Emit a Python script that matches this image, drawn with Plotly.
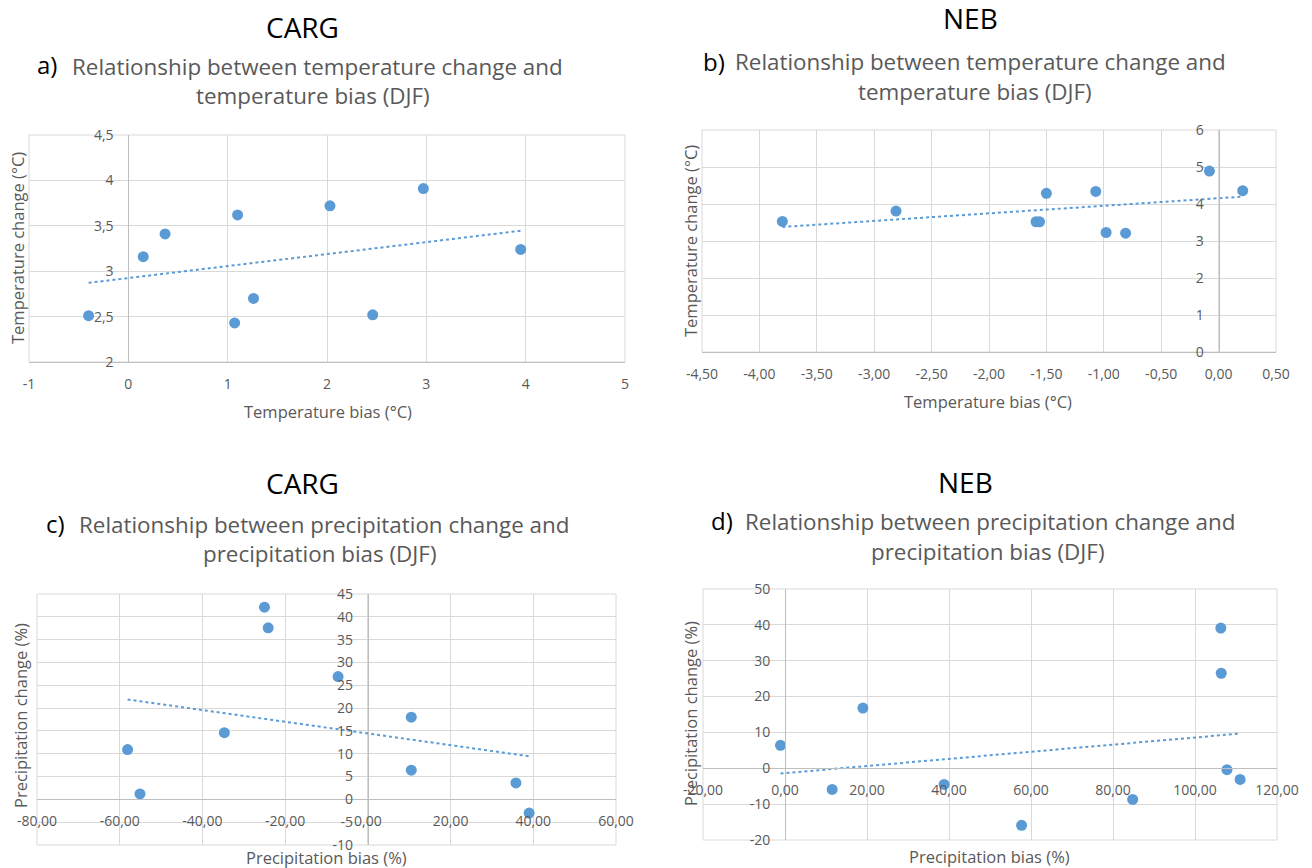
import numpy as np
import plotly.graph_objects as go

W, H = 1312, 868

# ---------------- data ----------------
a_bias = [-0.40, 0.15, 0.37, 1.10, 1.07, 1.26, 2.03, 2.46, 2.97, 3.95]
a_change = [2.51, 3.16, 3.41, 3.62, 2.43, 2.70, 3.72, 2.52, 3.91, 3.24]

b_bias = [-3.80, -2.81, -1.59, -1.56, -1.50, -1.07, -0.98, -0.81, -0.08, 0.21]
b_change = [3.53, 3.81, 3.52, 3.52, 4.29, 4.34, 3.23, 3.21, 4.89, 4.36]

c_bias = [-58.1, -55.1, -34.7, -25.0, -24.1, -7.2, 10.5, 10.5, 35.8, 39.0]
c_change = [10.9, 1.2, 14.6, 42.1, 37.6, 26.9, 18.0, 6.4, 3.6, -3.0]

d_bias = [-1.1, 11.5, 19.0, 38.8, 57.7, 84.8, 106.3, 106.4, 107.8, 111.0]
d_change = [6.4, -5.9, 16.8, -4.5, -15.9, -8.7, 39.1, 26.5, -0.4, -3.1]

# ticks
a_xticks = [-1, 0, 1, 2, 3, 4, 5]
a_xlabels = ["-1", "0", "1", "2", "3", "4", "5"]
a_yticks = [2, 2.5, 3, 3.5, 4, 4.5]
a_ylabels = ["2", "2,5", "3", "3,5", "4", "4,5"]

b_xticks = [-4.5, -4.0, -3.5, -3.0, -2.5, -2.0, -1.5, -1.0, -0.5, 0.0, 0.5]
b_xlabels = ["-4,50", "-4,00", "-3,50", "-3,00", "-2,50", "-2,00", "-1,50",
             "-1,00", "-0,50", "0,00", "0,50"]
b_yticks = [0, 1, 2, 3, 4, 5, 6]
b_ylabels = ["0", "1", "2", "3", "4", "5", "6"]

c_xticks = [-80, -60, -40, -20, 0, 20, 40, 60]
c_xlabels = ["-80,00", "-60,00", "-40,00", "-20,00", "0,00", "20,00", "40,00", "60,00"]
c_yticks = [-10, -5, 0, 5, 10, 15, 20, 25, 30, 35, 40, 45]
c_ylabels = ["-10", "-5", "0", "5", "10", "15", "20", "25", "30", "35", "40", "45"]

d_xticks = [-20, 0, 20, 40, 60, 80, 100, 120]
d_xlabels = ["-20,00", "0,00", "20,00", "40,00", "60,00", "80,00", "100,00", "120,00"]
d_yticks = [-20, -10, 0, 10, 20, 30, 40, 50]
d_ylabels = ["-20", "-10", "0", "10", "20", "30", "40", "50"]

# ---------------- styling / layout ----------------
BLUE = "#5B9BD5"
GRID = "#d9d9d9"
AXIS = "#bfbfbf"
GREY = "#595959"
FONT = "Open Sans"
TICK = 14
ATITLE = 16.5
SUB = 22.4
HEAD = 28

panels = [
    dict(x=a_bias, y=a_change, xt=a_xticks, xl=a_xlabels, yt=a_yticks, yl=a_ylabels,
         box=(29, 135, 625, 362), xcross=a_yticks[0], ycross=0),
    dict(x=b_bias, y=b_change, xt=b_xticks, xl=b_xlabels, yt=b_yticks, yl=b_ylabels,
         box=(702, 130, 1276, 352), xcross=b_yticks[0], ycross=0),
    dict(x=c_bias, y=c_change, xt=c_xticks, xl=c_xlabels, yt=c_yticks, yl=c_ylabels,
         box=(37, 594, 616, 845), xcross=0, ycross=0),
    dict(x=d_bias, y=d_change, xt=d_xticks, xl=d_xlabels, yt=d_yticks, yl=d_ylabels,
         box=(703, 589, 1277, 840), xcross=0, ycross=0),
]

fig = go.Figure()
layout = {}
shapes = []

for i, p in enumerate(panels):
    n = "" if i == 0 else str(i + 1)
    xa, ya = "x" + n, "y" + n
    l, t, r, b = p["box"]
    xd = [l / W, r / W]
    yd = [1 - b / H, 1 - t / H]
    xmin, xmax = p["xt"][0], p["xt"][-1]
    ymin, ymax = p["yt"][0], p["yt"][-1]

    # scatter points
    fig.add_trace(go.Scatter(x=p["x"], y=p["y"], mode="markers", xaxis=xa, yaxis=ya,
                             marker=dict(color=BLUE, size=11, line=dict(width=0)),
                             showlegend=False, hoverinfo="x+y"))
    # linear trendline computed from the points
    k, c0 = np.polyfit(p["x"], p["y"], 1)
    tx = [min(p["x"]), max(p["x"])]
    fig.add_trace(go.Scatter(x=tx, y=[k * v + c0 for v in tx], mode="lines",
                             xaxis=xa, yaxis=ya,
                             line=dict(color=BLUE, width=2, dash="dot"),
                             showlegend=False, hoverinfo="skip"))

    xpos = yd[0] + (p["xcross"] - ymin) / (ymax - ymin) * (yd[1] - yd[0])
    ypos = xd[0] + (p["ycross"] - xmin) / (xmax - xmin) * (xd[1] - xd[0])

    layout["xaxis" + n] = dict(
        domain=xd, range=[xmin, xmax], anchor="free", position=xpos,
        tickmode="array", tickvals=p["xt"], ticktext=p["xl"], tickangle=0,
        showgrid=True, gridcolor=GRID, gridwidth=1, zeroline=False,
        showline=True, linecolor=AXIS, linewidth=1, ticks="",
        ticklabelstandoff=9, automargin=False,
        tickfont=dict(family=FONT, size=TICK, color=GREY), fixedrange=True)
    layout["yaxis" + n] = dict(
        domain=yd, range=[ymin, ymax], anchor="free", position=ypos,
        tickmode="array", tickvals=p["yt"], ticktext=p["yl"],
        showgrid=True, gridcolor=GRID, gridwidth=1, zeroline=False,
        showline=True, linecolor=AXIS, linewidth=1, ticks="",
        ticklabelstandoff=12, automargin=False,
        tickfont=dict(family=FONT, size=TICK, color=GREY), fixedrange=True)
    shapes.append(dict(type="rect", xref=xa + " domain", yref=ya + " domain",
                       x0=0, x1=1, y0=0, y1=1, line=dict(color=GRID, width=1),
                       layer="below"))


def txt(s, px, py, size, color=GREY, angle=0, anchor="center"):
    return dict(text=s, x=px / W, y=1 - py / H, xref="paper", yref="paper",
                showarrow=False, xanchor=anchor, yanchor="middle", textangle=angle,
                font=dict(family=FONT, size=size, color=color))


ann = [
    # panel a
    txt("CARG", 302, 27, HEAD, "#000000"),
    txt("a)", 47, 65, 24, "#000000"),
    txt("Relationship between temperature change and", 317, 66, SUB),
    txt("temperature bias (DJF)", 313, 95, SUB),
    txt("Temperature change (°C)", 17, 248, ATITLE, angle=-90),
    txt("Temperature bias (°C)", 328, 411, ATITLE),
    # panel b
    txt("NEB", 970, 18, HEAD, "#000000"),
    txt("b)", 714, 61, 24, "#000000"),
    txt("Relationship between temperature change and", 980, 62, SUB),
    txt("temperature bias (DJF)", 975, 92, SUB),
    txt("Temperature change (°C)", 690, 241, ATITLE, angle=-90),
    txt("Temperature bias (°C)", 988, 401, ATITLE),
    # panel c
    txt("CARG", 302, 483, HEAD, "#000000"),
    txt("c)", 55, 523, 24, "#000000"),
    txt("Relationship between precipitation change and", 324, 524, SUB),
    txt("precipitation bias (DJF)", 320, 553, SUB),
    txt("Precipitation change (%)", 20, 716, ATITLE, angle=-90),
    txt("Precipitation bias (%)", 326, 857, ATITLE),
    # panel d
    txt("NEB", 965, 482, HEAD, "#000000"),
    txt("d)", 722, 520, 24, "#000000"),
    txt("Relationship between precipitation change and", 990, 521, SUB),
    txt("precipitation bias (DJF)", 988, 551, SUB),
    txt("Precipitation change (%)", 690, 714, ATITLE, angle=-90),
    txt("Precipitation bias (%)", 990, 856, ATITLE),
]

fig.update_layout(
    width=W, height=H, margin=dict(l=0, r=0, t=0, b=0, autoexpand=False),
    paper_bgcolor="white", plot_bgcolor="white",
    font=dict(family=FONT, color=GREY),
    annotations=ann, shapes=shapes, showlegend=False,
    **layout)

fig.write_html("out.html", config={"displayModeBar": False},
               post_script="document.body.style.margin='0';")
